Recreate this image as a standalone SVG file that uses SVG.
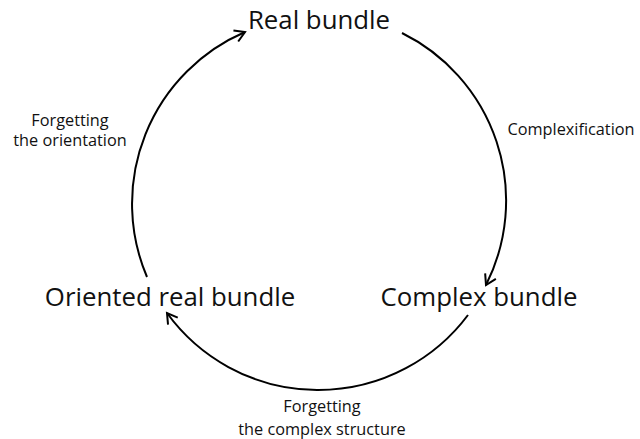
<svg xmlns="http://www.w3.org/2000/svg" width="640" height="439" viewBox="0 0 640 439">
<defs>
<style>
.node{font-family:"Open Sans","Noto Sans",sans-serif;font-size:25.8px;fill:#111;}
.lab{font-family:"Open Sans","Noto Sans",sans-serif;font-size:16.3px;fill:#111;}
.arc{fill:none;stroke:#000;stroke-width:2;marker-end:url(#ah);}
</style>
<marker id="ah" markerUnits="userSpaceOnUse" markerWidth="20" markerHeight="20" refX="0" refY="0" viewBox="-12 -10 14 20" orient="auto">
<path d="M-10,-6 L0,0 L-10,6" fill="none" stroke="#000" stroke-width="2"/>
</marker>
</defs>
<rect width="640" height="439" fill="#fff"/>
<g id="connectors">
<path class="arc" d="M147,277 A187,187 0 0 1 245,32"/>
<path class="arc" d="M402,33 A187,187 0 0 1 486,285"/>
<path class="arc" d="M468,315 A187,187 0 0 1 167,313"/>
</g>
<g id="real"><text class="node" x="319" y="29" text-anchor="middle">Real bundle</text></g>
<g id="complex"><text class="node" x="479" y="306" text-anchor="middle">Complex bundle</text></g>
<g id="oriented"><text class="node" x="170" y="306" text-anchor="middle">Oriented real bundle</text></g>
<g id="lab1"><text class="lab" x="571" y="135" text-anchor="middle">Complexification</text></g>
<g id="lab2"><text class="lab" x="70" y="126" text-anchor="middle">Forgetting</text><text class="lab" x="70" y="146" text-anchor="middle">the orientation</text></g>
<g id="lab3"><text class="lab" x="322" y="412" text-anchor="middle">Forgetting</text><text class="lab" x="322" y="435" text-anchor="middle">the complex structure</text></g>
</svg>
